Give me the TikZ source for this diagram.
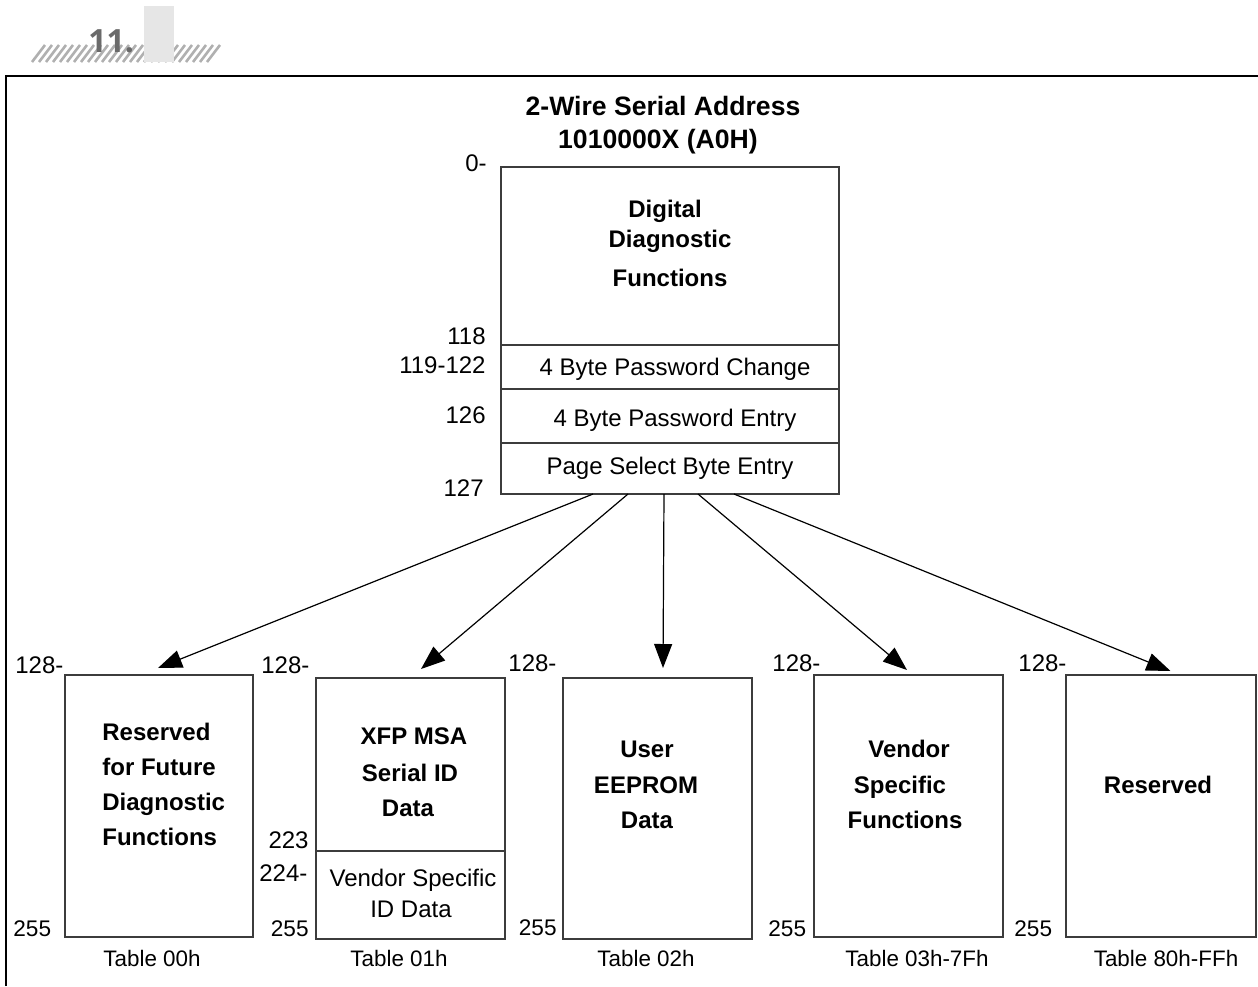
\documentclass[tikz,border=0pt]{standalone}
\usepackage{fontspec}
\setmainfont{Liberation Sans}
\newfontfamily\hdrfont{Open Sans}
\usetikzlibrary{arrows.meta,calc}
\definecolor{boxline}{HTML}{3C3C3C}
\definecolor{hatchgray}{HTML}{B0B0B0}
\definecolor{tabgray}{HTML}{E6E6E6}
\definecolor{numgray}{HTML}{6A6A6A}
\begin{document}
\begin{tikzpicture}[x=0.5pt,y=-0.5pt,
  mem/.style={draw=boxline, line width=1pt, inner sep=0pt, outer sep=0pt, anchor=north west},
  divline/.style={draw=boxline, line width=1pt},
  ttl/.style={inner sep=0pt, anchor=base, font=\fontsize{12}{14}\selectfont\bfseries},
  ttlw/.style={inner sep=0pt, anchor=base west, font=\fontsize{12}{14}\selectfont\bfseries},
  reg/.style={inner sep=0pt, anchor=base, font=\fontsize{12}{14}\selectfont},
  numl/.style={inner sep=0pt, anchor=base west, font=\fontsize{12}{14}\selectfont},
  numr/.style={inner sep=0pt, anchor=base east, font=\fontsize{12}{14}\selectfont},
  lowl/.style={inner sep=0pt, anchor=base west, font=\fontsize{11.3}{14}\selectfont},
  lowr/.style={inner sep=0pt, anchor=base east, font=\fontsize{11.3}{14}\selectfont},
  tabl/.style={inner sep=0pt, anchor=base, font=\fontsize{11.2}{14}\selectfont},
  conn/.style={line width=0.6pt, -{Triangle[length=12pt,width=9pt]}},
]
\useasboundingbox (0,0) rectangle (1258,986);

% header
\foreach \i in {0,...,25} \draw[hatchgray, line width=1.3pt] (32+7*\i,62) -- (45+7*\i,45);
\node[anchor=base west, inner sep=0pt, text=numgray, font=\hdrfont\bfseries\fontsize{16}{18}\selectfont] (hdr) at (88,52) {11.};
\fill[tabgray] (144,6) rectangle (174,62);

% frame
\draw[line width=1.1pt] (6,986) -- (6,76) -- (1258,76);

% title
\node[inner sep=0pt, anchor=base, font=\fontsize{13.3}{15}\selectfont\bfseries] (title1) at (663,115) {2-Wire Serial Address};
\node[inner sep=0pt, anchor=base, font=\fontsize{13.3}{15}\selectfont\bfseries] (title2) at (658,148) {1010000X (A0H)};

% top memory map
\node[mem, minimum width=169pt, minimum height=163.5pt] (top) at (501,167) {};
\draw[divline] ($(top.north west)+(0,178)$) -- ($(top.north east)+(0,178)$);
\draw[divline] ($(top.north west)+(0,222)$) -- ($(top.north east)+(0,222)$);
\draw[divline] ($(top.north west)+(0,276)$) -- ($(top.north east)+(0,276)$);

\node[ttl] (dd1) at (665,217) {Digital};
\node[ttl] (dd2) at (670,247) {Diagnostic};
\node[ttl] (dd3) at (670,286) {Functions};
\node[reg] (pw1) at (675,375) {4 Byte Password Change};
\node[reg] (pw2) at (675,426) {4 Byte Password Entry};
\node[reg] (pw3) at (670,474) {Page Select Byte Entry};

\node[numr] (a0) at (487,171) {0-};
\node[numr] (a118) at (486,344) {118};
\node[numr] (a119) at (486,373) {119-122};
\node[numr] (a126) at (486,423) {126};
\node[numr] (a127) at (484,496) {127};

% bottom tables
\node[mem, minimum width=94pt, minimum height=131pt] (b1) at (65,675) {};
\node[mem, minimum width=94.5pt, minimum height=130.5pt] (b2) at (316,678) {};
\node[mem, minimum width=94.5pt, minimum height=130.5pt] (b3) at (563,678) {};
\node[mem, minimum width=94.5pt, minimum height=131pt] (b4) at (814,675) {};
\node[mem, minimum width=95pt, minimum height=131pt] (b5) at (1066,675) {};
\draw[divline] ($(b2.north west)+(0,173)$) -- ($(b2.north east)+(0,173)$);

% table 00h
\node[numl] (c1a) at (15,673) {128-};
\node[lowl] (c1b) at (13,936) {255};
\node[ttlw] (r1) at (102,740) {Reserved};
\node[ttlw] (r2) at (102,775) {for Future};
\node[ttlw] (r3) at (102,810) {Diagnostic};
\node[ttlw] (r4) at (102,845) {Functions};
\node[tabl] (t1) at (152,966) {Table 00h};

% table 01h
\node[numl] (c2a) at (261,673) {128-};
\node[numr] (c2b) at (309,848) {223};
\node[numl] (c2c) at (259,881) {224-};
\node[lowr] (c2d) at (309,936) {255};
\node[ttl] (x1) at (414,744) {XFP MSA};
\node[ttl] (x2) at (410,781) {Serial ID};
\node[ttl] (x3) at (408,816) {Data};
\node[reg] (v1) at (413,886) {Vendor Specific};
\node[reg] (v2) at (411,917) {ID Data};
\node[tabl] (t2) at (399,966) {Table 01h};

% table 02h
\node[numl] (c3a) at (508,671) {128-};
\node[lowr] (c3b) at (557,935) {255};
\node[ttl] (u1) at (647,757) {User};
\node[ttl] (u2) at (646,793) {EEPROM};
\node[ttl] (u3) at (647,828) {Data};
\node[tabl] (t3) at (646,966) {Table 02h};

% table 03h-7Fh
\node[numl] (c4a) at (772,671) {128-};
\node[lowl] (c4b) at (768,936) {255};
\node[ttl] (f1) at (909,757) {Vendor};
\node[ttl] (f2) at (900,793) {Specific};
\node[ttl] (f3) at (905,828) {Functions};
\node[tabl] (t4) at (917,966) {Table 03h-7Fh};

% table 80h-FFh
\node[numl] (c5a) at (1018,671) {128-};
\node[lowl] (c5b) at (1014,936) {255};
\node[ttl] (rs) at (1158,793) {Reserved};
\node[tabl] (t5) at (1166,966) {Table 80h-FFh};

% connectors
\draw[conn] ($(top.south west)+(92,0)$) -- ($(b1.north)+(-1,-7)$);
\draw[conn] ($(top.south west)+(127,0)$) -- ($(b2.north)+(10.5,-9)$);
\draw[conn] ($(top.south west)+(163,0)$) -- ($(b3.north)+(5.5,-10)$);
\draw[conn] ($(top.south west)+(197,0)$) -- ($(b4.north)+(-1.5,-5)$);
\draw[conn] ($(top.south west)+(233,0)$) -- ($(b5.north)+(9.5,-4)$);
\end{tikzpicture}
\end{document}
